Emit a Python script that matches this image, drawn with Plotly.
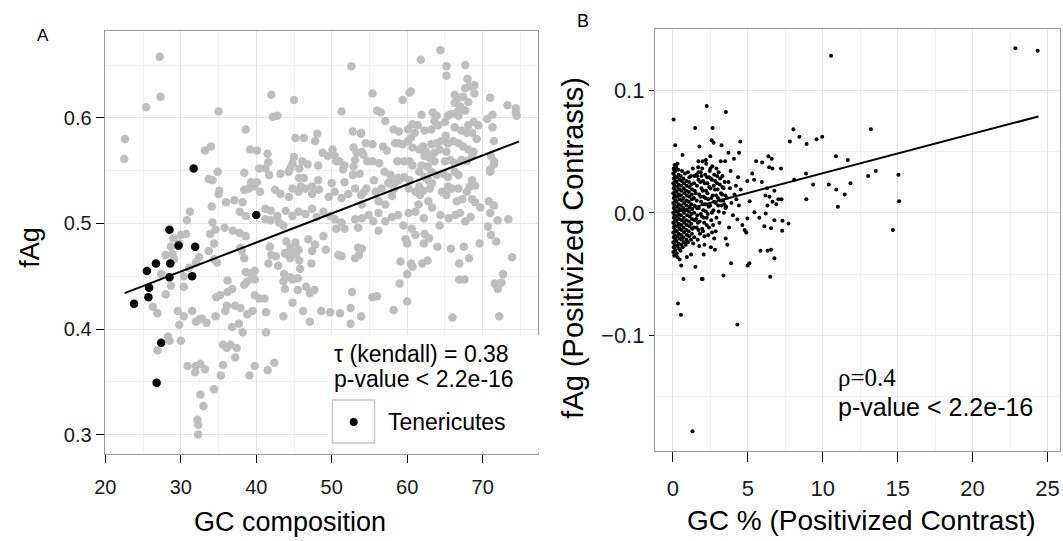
import plotly.graph_objects as go

W, H = 1063, 541

# ---------------- Panel A data: GC composition vs fAg ----------------
grey_pts = [
    # x < 35
    (27.2,0.658),(27.3,0.620),(25.4,0.610),(22.6,0.580),(22.5,0.561),(33.2,0.569),(34.0,0.573),
    (33.7,0.542),(34.2,0.541),(34.9,0.549),(35.0,0.528),(34.1,0.516),(31.2,0.511),(30.8,0.503),
    (34.2,0.501),(35.0,0.606),
    (28.0,0.470),(27.4,0.452),(28.7,0.441),(28.0,0.433),(26.3,0.421),(26.9,0.415),(29.6,0.417),
    (29.8,0.404),(30.4,0.412),(31.5,0.417),(32.0,0.407),(32.4,0.409),(32.8,0.410),(28.3,0.393),
    (28.5,0.389),(30.0,0.389),(26.9,0.380),(30.9,0.365),(32.0,0.365),(31.9,0.359),(32.6,0.367),
    (33.2,0.362),(32.6,0.338),(33.0,0.327),(32.2,0.314),(32.3,0.309),(32.3,0.300),(34.4,0.343),
    (33.7,0.474),(34.4,0.466),(34.8,0.463),(34.4,0.481),(33.9,0.490),(34.6,0.494),(32.0,0.463),
    (31.1,0.458),(30.4,0.450),(32.4,0.468),(29.1,0.466),(28.9,0.471),(28.7,0.478),(29.8,0.481),
    (30.0,0.489),(30.7,0.490),(29.0,0.486),(30.4,0.440),(33.4,0.406),(34.6,0.412),(34.7,0.430),
    # 35-54, upper
    (52.6,0.649),(42.0,0.622),(45.0,0.617),(42.2,0.601),(42.8,0.602),(51.3,0.606),(38.6,0.589),
    (52.8,0.587),(53.9,0.585),(48.1,0.585),(47.8,0.578),(45.2,0.581),(46.3,0.581),(39.2,0.570),
    (40.1,0.569),(41.5,0.566),(48.8,0.567),(50.1,0.570),(50.4,0.564),(51.0,0.559),(51.7,0.555),
    (51.5,0.551),(52.9,0.572),(53.3,0.567),(53.1,0.560),(52.9,0.554),(45.0,0.563),(46.1,0.559),
    (46.8,0.556),(45.7,0.552),(40.4,0.552),(41.2,0.552),(41.7,0.546),(43.2,0.547),(44.5,0.552),
    (44.3,0.549),(38.4,0.548),(48.2,0.555),(49.5,0.564),(50.6,0.559),(50.0,0.538),(51.7,0.539),
    (52.8,0.546),(53.7,0.547),(39.3,0.539),(40.1,0.539),(45.7,0.543),(46.3,0.543),(48.2,0.541),
    (45.9,0.535),(47.4,0.535),(44.8,0.557),(41.6,0.558),
    # 35-54, middle
    (35.1,0.531),(38.4,0.532),(39.0,0.533),(39.7,0.535),(40.5,0.530),(42.5,0.532),(43.2,0.528),
    (44.3,0.525),(44.8,0.533),(45.6,0.530),(46.5,0.533),(47.4,0.528),(48.3,0.532),(49.6,0.525),
    (50.4,0.530),(51.3,0.524),(52.2,0.528),(53.1,0.533),(53.9,0.527),
    (36.0,0.520),(37.1,0.522),(38.2,0.520),(37.8,0.511),(38.6,0.507),(41.2,0.514),(41.9,0.512),
    (42.8,0.507),(43.9,0.512),(44.8,0.507),(45.6,0.511),(46.5,0.509),(47.4,0.514),(48.0,0.506),
    (48.9,0.511),(49.8,0.507),(50.4,0.504),(51.3,0.501),(53.1,0.504),(51.7,0.495),(53.5,0.496),
    (35.8,0.496),(36.9,0.493),(37.8,0.491),(38.6,0.488),(41.2,0.504),(41.9,0.503),(43.0,0.501),
    (43.6,0.498),
    (38.1,0.474),(38.4,0.467),(37.9,0.477),(41.8,0.478),(42.0,0.470),(42.6,0.469),(41.6,0.462),
    (44.0,0.483),(44.5,0.477),(45.2,0.482),(45.6,0.475),(44.9,0.472),(46.9,0.485),(47.8,0.480),
    (47.4,0.474),(48.9,0.488),(50.6,0.495),(49.2,0.475),(43.8,0.472),(44.5,0.467),(45.8,0.457),
    (47.3,0.462),(50.9,0.470),(51.3,0.469),(53.1,0.467),(53.5,0.477),
    (38.6,0.454),(39.2,0.453),(39.5,0.448),(44.5,0.449),(36.2,0.446),(45.7,0.465),(45.3,0.471),
    (43.9,0.471),(42.9,0.460),(43.7,0.452),(39.8,0.455),(39.8,0.447),(38.8,0.445),(44.8,0.447),
    (45.5,0.448),
    # 35-54, lower
    (35.9,0.417),(36.1,0.422),(37.2,0.422),(37.9,0.420),(38.8,0.414),(39.5,0.417),(40.4,0.429),
    (41.1,0.429),(41.3,0.416),(35.2,0.432),(36.2,0.435),(36.8,0.438),(38.4,0.442),(39.8,0.432),
    (43.6,0.412),(43.8,0.438),(44.8,0.425),(46.2,0.417),(47.1,0.407),(48.6,0.417),(49.8,0.416),
    (51.1,0.415),(52.5,0.420),(52.5,0.405),(52.7,0.435),(53.9,0.412),(46.6,0.440),(47.1,0.434),
    (47.7,0.437),(45.5,0.437),(43.6,0.445),(41.3,0.397),(38.2,0.397),(37.7,0.405),(36.8,0.402),
    (35.6,0.385),(36.1,0.382),(36.6,0.385),(37.4,0.382),(37.2,0.373),(35.6,0.366),(35.3,0.356),
    (39.1,0.356),(39.8,0.365),(41.5,0.361),(42.4,0.368),
    # x >= 54, upper
    (64.4,0.664),(61.8,0.655),(65.2,0.649),(65.2,0.640),(67.7,0.650),(68.0,0.637),(68.3,0.630),
    (68.9,0.631),(68.9,0.623),(55.4,0.623),(59.4,0.617),(60.3,0.624),(60.5,0.625),(66.3,0.622),
    (66.8,0.619),(67.7,0.628),(67.4,0.620),(68.1,0.615),(66.3,0.614),(67.0,0.611),(66.7,0.606),
    (67.7,0.607),(65.9,0.604),(71.0,0.619),(73.3,0.612),(74.4,0.609),(74.5,0.602),(56.0,0.607),
    (56.5,0.605),(57.1,0.597),(61.9,0.603),(63.4,0.605),(63.9,0.602),(65.0,0.596),(63.6,0.597),
    (65.4,0.602),(66.8,0.602),(70.6,0.599),(71.3,0.603),(58.2,0.589),(58.9,0.587),(60.1,0.589),
    (60.7,0.594),(61.4,0.593),(62.3,0.588),(63.2,0.589),(64.1,0.593),(65.1,0.583),(66.3,0.591),
    (67.2,0.588),(68.1,0.593),(68.8,0.596),(69.4,0.593),(67.9,0.586),(53.9,0.586),(54.5,0.576),
    (54.0,0.568),(55.4,0.575),(56.8,0.573),(57.3,0.569),(58.4,0.576),(58.9,0.576),(59.4,0.575),
    (60.1,0.578),(60.5,0.581),(61.0,0.586),(60.7,0.572),(61.6,0.570),(62.1,0.573),(62.5,0.568),
    (63.2,0.575),(63.9,0.576),(64.5,0.578),(62.3,0.564),(63.0,0.562),(63.6,0.567),(64.3,0.570),
    (65.2,0.568),(65.4,0.576),(66.1,0.578),(66.8,0.576),(67.4,0.573),(68.1,0.570),(68.8,0.568),
    (69.2,0.580),(68.6,0.586),(71.5,0.578),(71.5,0.559),(71.0,0.551),(71.3,0.591),(58.7,0.559),
    (59.6,0.559),(60.3,0.559),(60.7,0.555),(61.9,0.555),(62.7,0.554),(63.6,0.559),(65.0,0.559),
    (65.7,0.560),(66.3,0.557),(67.2,0.560),(67.9,0.559),(68.6,0.564),(54.2,0.565),(54.7,0.559),
    (55.4,0.559),(56.3,0.557),(57.0,0.549),(57.8,0.546),(58.9,0.541),(59.6,0.544),(60.3,0.541),
    (61.6,0.549),(62.3,0.544),(63.2,0.549),(63.9,0.546),(64.8,0.547),(65.4,0.544),(66.3,0.549),
    (66.8,0.546),(68.6,0.541),(69.0,0.536),(55.6,0.541),(57.6,0.539),(58.3,0.533),(65.4,0.535),
    (66.8,0.533),(68.3,0.535),(61.6,0.535),(62.1,0.531),(63.0,0.533),(57.5,0.538),(58.4,0.539),
    (58.8,0.543),(62.8,0.541),(63.3,0.538),(71.0,0.549),(71.5,0.556),(71.1,0.564),
    # x >= 54, middle
    (54.2,0.529),(54.6,0.533),(55.8,0.530),(56.6,0.533),(54.0,0.518),(56.2,0.521),(57.1,0.518),
    (58.0,0.526),(60.2,0.533),(61.1,0.530),(61.7,0.527),(54.0,0.505),(54.9,0.508),(55.5,0.502),
    (56.2,0.510),(57.1,0.502),(58.0,0.506),(58.8,0.508),(59.5,0.498),(60.2,0.510),(61.1,0.511),
    (61.5,0.518),(62.2,0.505),(62.8,0.521),(63.3,0.515),(64.6,0.530),(65.2,0.527),(65.9,0.533),
    (66.6,0.521),(67.3,0.523),(67.9,0.530),(68.6,0.523),(65.5,0.505),(66.4,0.508),(67.0,0.510),
    (67.7,0.502),(68.4,0.506),(69.0,0.520),(69.7,0.515),(70.8,0.521),(71.0,0.510),(71.5,0.517),
    (73.4,0.504),(72.0,0.503),(70.7,0.497),(64.3,0.498),(64.4,0.508),
    # x >= 54, lower
    (56.2,0.493),(54.0,0.476),(53.6,0.470),(61.1,0.489),(59.8,0.485),(60.0,0.481),(62.9,0.486),
    (62.2,0.481),(64.0,0.478),(59.1,0.464),(60.5,0.462),(60.7,0.459),(60.0,0.452),(62.0,0.462),
    (62.7,0.465),(59.0,0.443),(55.4,0.430),(56.0,0.431),(58.2,0.418),(60.0,0.426),(71.1,0.489),
    (71.8,0.483),(65.8,0.476),(67.5,0.478),(68.2,0.467),(66.9,0.462),(69.6,0.481),(66.9,0.447),
    (67.6,0.447),(72.7,0.452),(72.5,0.444),(71.6,0.443),(72.0,0.438),(73.9,0.468),(66.0,0.411),
    (72.2,0.412),(74.4,0.605),(60.6,0.495),(62.3,0.490),
]
black_pts = [
    (23.8,0.424),(25.5,0.455),(26.7,0.462),(25.8,0.439),(25.7,0.430),(28.5,0.494),(28.6,0.462),
    (28.5,0.449),(29.7,0.479),(31.7,0.552),(31.9,0.478),(31.5,0.450),(40.0,0.508),(27.4,0.387),
    (26.8,0.349),
]
fitA_x = [22.55, 74.8]
fitA_y = [0.434, 0.5776]

gc_grey = [p[0] for p in grey_pts]
fag_grey = [p[1] for p in grey_pts]
gc_ten = [p[0] for p in black_pts]
fag_ten = [p[1] for p in black_pts]

# ---------------- Panel B data: positivized contrasts ----------------
contrast_pts = [
    (10.55,0.128),(22.86,0.134),(24.35,0.132),(8.04,0.068),(7.80,0.058),(8.44,0.062),(8.92,0.056),
    (9.58,0.060),(9.96,0.062),(13.21,0.068),(10.88,0.046),(11.67,0.043),(13.03,0.030),(13.54,0.034),
    (15.05,0.031),(15.10,0.0095),(14.68,-0.014),(8.88,0.032),(8.09,0.027),(9.36,0.023),(10.40,0.023),
    (10.90,0.019),(11.47,0.015),(11.85,0.024),(11.01,0.005),(8.90,0.011),(6.37,0.046),(6.59,0.044),
    (5.55,0.042),(5.95,0.041),(6.42,0.037),(6.64,0.036),(7.21,0.036),(5.29,0.032),(4.96,0.026),
    (5.42,0.027),(5.93,0.025),(6.28,0.020),(6.77,0.018),(6.17,0.014),(6.44,0.013),(7.03,0.011),
    (7.25,0.011),(5.12,0.0095),(6.31,0.006),(6.64,0.009),(6.90,0.007),(5.44,0.0005),(6.19,-0.0005),
    (4.97,-0.0046),(5.76,-0.004),(6.77,-0.006),(7.31,-0.0065),(7.71,-0.0087),(6.10,-0.011),
    (6.54,-0.0125),(7.29,-0.0147),(4.78,-0.014),(4.89,-0.016),(5.84,-0.031),(6.31,-0.031),
    (6.54,-0.030),(6.77,-0.037),(4.99,-0.043),(5.10,-0.041),(6.49,-0.052),
    (0.04,0.076),(1.48,0.069),(2.64,0.069),(0.15,0.055),(1.76,0.054),(2.58,0.059),(2.71,0.057),
    (3.24,0.055),(4.49,0.058),(0.64,0.047),(3.70,0.049),(4.41,0.049),(4.07,0.044),(1.70,0.042),
    (1.98,0.042),(2.20,0.043),(2.49,0.046),(1.32,0.036),(0.11,0.039),(0.07,0.035),(3.19,0.042),
    (3.48,0.042),(3.85,0.034),(4.34,0.029),(4.52,0.019),(4.23,0.011),(4.30,-0.0055),(4.63,-0.010),
    (3.74,-0.012),(2.75,-0.021),(3.52,-0.021),(3.63,-0.026),(2.53,-0.028),(2.80,-0.030),
    (2.05,-0.034),(3.88,-0.041),(3.37,-0.051),(1.98,-0.054),(0.70,-0.054),(1.50,-0.044),
    (1.21,-0.034),(0.44,-0.038),(0.55,-0.043),(0.93,-0.036),
    (3.6,0.012),(3.9,0.008),(4.1,0.015),(3.8,0.020),(4.4,0.006),(3.5,0.004),(4.0,-0.002),
    (3.7,0.025),(4.2,0.022),
    (0.33,-0.0738),(0.53,-0.083),(4.30,-0.091),(1.30,-0.178),(1.92,-0.054),(2.25,0.087),(3.53,0.082),
    # dense cluster near the origin
    (0.02,-0.032),(0.05,-0.028),(0.02,-0.024),(0.05,-0.020),(0.02,-0.016),(0.05,-0.012),(0.02,-0.008),
    (0.05,-0.004),(0.02,0.000),(0.05,0.004),(0.02,0.008),(0.05,0.012),(0.02,0.016),(0.05,0.020),
    (0.02,0.024),(0.05,0.028),(0.02,0.032),
    (0.14,-0.030),(0.10,-0.026),(0.15,-0.022),(0.11,-0.018),(0.14,-0.014),(0.10,-0.010),(0.15,-0.006),
    (0.11,-0.002),(0.14,0.002),(0.10,0.006),(0.15,0.010),(0.11,0.014),(0.14,0.018),(0.10,0.022),
    (0.15,0.026),(0.11,0.030),(0.14,0.034),
    (0.25,-0.033),(0.28,-0.027),(0.23,-0.023),(0.27,-0.019),(0.24,-0.015),(0.29,-0.011),(0.22,-0.007),
    (0.26,-0.003),(0.25,0.001),(0.28,0.005),(0.23,0.009),(0.27,0.013),(0.24,0.017),(0.29,0.021),
    (0.22,0.025),(0.26,0.029),
    (0.40,-0.029),(0.37,-0.025),(0.42,-0.021),(0.38,-0.017),(0.43,-0.013),(0.39,-0.009),(0.41,-0.005),
    (0.37,-0.001),(0.42,0.003),(0.38,0.007),(0.43,0.011),(0.39,0.015),(0.41,0.019),(0.37,0.023),
    (0.42,0.027),(0.38,0.031),
    (0.55,-0.026),(0.58,-0.022),(0.53,-0.018),(0.57,-0.014),(0.54,-0.010),(0.59,-0.006),(0.52,-0.002),
    (0.56,0.002),(0.55,0.006),(0.58,0.010),(0.53,0.014),(0.57,0.018),(0.54,0.022),(0.59,0.026),
    (0.52,0.030),
    (0.72,-0.024),(0.69,-0.020),(0.74,-0.016),(0.70,-0.012),(0.75,-0.008),(0.71,-0.004),(0.73,0.000),
    (0.69,0.004),(0.74,0.008),(0.70,0.012),(0.75,0.016),(0.71,0.020),(0.73,0.024),(0.69,0.028),
    (0.90,-0.022),(0.93,-0.018),(0.88,-0.014),(0.92,-0.010),(0.89,-0.006),(0.94,-0.002),(0.87,0.002),
    (0.91,0.006),(0.90,0.010),(0.93,0.014),(0.88,0.018),(0.92,0.022),(0.89,0.026),
    (1.08,-0.019),(1.05,-0.015),(1.10,-0.011),(1.06,-0.007),(1.11,-0.003),(1.07,0.001),(1.09,0.005),
    (1.05,0.009),(1.10,0.013),(1.06,0.017),(1.11,0.021),(1.07,0.025),(1.09,0.029),
    (1.25,-0.017),(1.28,-0.013),(1.23,-0.009),(1.27,-0.005),(1.24,-0.001),(1.29,0.003),(1.22,0.007),
    (1.26,0.011),(1.25,0.015),(1.28,0.019),(1.23,0.023),
    (1.42,-0.020),(1.40,-0.012),(1.45,-0.006),(1.41,0.000),(1.44,0.006),(1.40,0.012),(1.45,0.018),
    (1.41,0.024),(1.44,0.030),
    (0.05,0.036),(0.20,0.037),(0.35,0.035),(0.60,0.034),(0.80,0.032),(1.00,0.033),(1.20,0.030),
    (0.30,0.040),(0.08,-0.035),(0.30,-0.036),(0.50,-0.031),(0.65,-0.028),(0.85,-0.026),(1.00,-0.024),
    (1.20,-0.022),(1.35,-0.025),
    (1.55,0.031),(1.6,0.022),(1.58,0.010),(1.62,-0.002),(1.57,-0.012),(1.65,-0.022),(1.7,0.027),
    (1.75,0.015),(1.72,0.004),(1.78,-0.007),(1.8,-0.017),(1.85,0.033),(1.9,0.020),(1.88,0.009),
    (1.93,-0.003),(1.95,-0.013),(2.0,0.026),(2.05,0.013),(2.02,0.002),(2.08,-0.008),(2.1,-0.019),
    (2.15,0.031),(2.2,0.018),(2.18,0.007),(2.25,-0.004),(2.3,0.024),(2.35,0.011),(2.32,-0.001),
    (2.4,-0.012),(2.45,0.034),(2.5,0.020),(2.48,0.006),(2.55,-0.006),(2.6,0.027),(2.65,0.014),
    (2.7,0.002),(2.68,-0.010),(2.75,0.031),(2.8,0.019),(2.85,0.008),(2.9,-0.004),(2.95,0.024),
    (3.0,0.012),(3.05,0.001),(3.1,-0.008),(3.15,0.028),(3.2,0.016),(3.25,0.006),(3.3,0.021),
    (3.35,0.010),(3.4,0.000),(3.45,0.025),(3.5,0.014),(3.55,0.005),(2.22,0.040),(2.62,0.038),
    (2.9,0.036),(1.68,0.037),(3.05,0.033),(3.3,0.030),(2.4,0.029),(1.95,0.036),(2.85,-0.015),
    (2.35,-0.018),(1.75,-0.027),(2.1,-0.026),
    (1.52,0.016),(1.6,0.004),(1.66,-0.008),(1.7,0.033),(1.82,0.025),(1.84,0.013),(1.86,-0.001),
    (1.98,0.018),(2.0,0.007),(2.04,-0.004),(2.12,0.024),(2.16,0.012),(2.2,0.001),(2.28,0.029),
    (2.3,0.016),(2.38,0.005),(2.42,0.021),(2.52,0.028),(2.56,0.012),(2.6,0.000),(2.72,0.022),
    (2.74,0.009),(2.82,0.026),(2.88,0.014),(2.98,0.019),(3.02,0.006),(3.12,0.023),(3.18,0.010),
    (3.28,0.015),(3.38,0.020),(3.42,0.007),(2.95,0.030),(2.5,0.036),(1.9,0.030),(1.62,0.030),
    (1.55,-0.005),(1.7,-0.014),(2.0,-0.015),(2.25,-0.010),(2.6,-0.016),
]
fitB_x = [0.0, 24.4]
fitB_y = [0.0, 0.0785]

gc_contrast = [p[0] for p in contrast_pts]
fag_contrast = [p[1] for p in contrast_pts]

xticksA = [20, 30, 40, 50, 60, 70]
yticksA = [0.3, 0.4, 0.5, 0.6]
xticksB = [0, 5, 10, 15, 20, 25]
yticksB = [-0.1, 0.0, 0.1]

# ---------------- layout helpers (pixels -> paper) ----------------
def px(x):
    return x / W

def py(y):
    return 1 - y / H

SANS = "Liberation Sans, Arial, Helvetica, sans-serif"
SERIF = "Liberation Serif, Times New Roman, serif"
GRID = "#e4e4e4"
MINOR = "#f1f1f1"
FRAME = "#9a9a9a"

fig = go.Figure()

fig.add_trace(go.Scatter(x=gc_grey, y=fag_grey, mode="markers", xaxis="x", yaxis="y",
                         marker=dict(color="#bebebe", size=8.5, line=dict(width=0)),
                         showlegend=False, hoverinfo="skip"))
fig.add_trace(go.Scatter(x=gc_ten, y=fag_ten, mode="markers", xaxis="x", yaxis="y",
                         marker=dict(color="black", size=8.5, line=dict(width=0)),
                         showlegend=False, hoverinfo="skip"))
fig.add_trace(go.Scatter(x=fitA_x, y=fitA_y, mode="lines", xaxis="x", yaxis="y",
                         line=dict(color="black", width=2), showlegend=False, hoverinfo="skip"))

fig.add_trace(go.Scatter(x=gc_contrast, y=fag_contrast, mode="markers", xaxis="x2", yaxis="y2",
                         marker=dict(color="black", size=4, line=dict(width=0)),
                         showlegend=False, hoverinfo="skip"))
fig.add_trace(go.Scatter(x=fitB_x, y=fitB_y, mode="lines", xaxis="x2", yaxis="y2",
                         line=dict(color="black", width=2), showlegend=False, hoverinfo="skip"))

A_L, A_R, A_T, A_B = 95.5, 533.5, 31.3, 453.6
B_L, B_R, B_T, B_B = 651.0, 1060.0, 29.0, 451.0

common = dict(showline=True, mirror=True, linecolor=FRAME, linewidth=1, ticks="outside",
              tickcolor="black", tickwidth=1, showgrid=True, gridcolor=GRID, gridwidth=1,
              zeroline=False)

fig.update_layout(
    width=W, height=H, margin=dict(l=0, r=0, t=0, b=0),
    paper_bgcolor="white", plot_bgcolor="white", showlegend=False,
    font=dict(family=SANS, color="black"),
    xaxis=dict(domain=[px(A_L), px(A_R)], range=[19.9, 77.4], tickvals=xticksA,
               ticklen=8, tickfont=dict(size=20, color="#1a1a1a"), ticklabelstandoff=7,
               minor=dict(tickvals=[25, 35, 45, 55, 65, 75], showgrid=True, gridcolor=MINOR),
               anchor="y", **common),
    yaxis=dict(domain=[py(A_B), py(A_T)], range=[0.282, 0.682], tickvals=yticksA,
               tickformat=".1f", ticklen=8, tickfont=dict(size=20, color="#1a1a1a"),
               minor=dict(tickvals=[0.35, 0.45, 0.55, 0.65], showgrid=True, gridcolor=MINOR),
               anchor="x", **common),
    xaxis2=dict(domain=[px(B_L), px(B_R)], range=[-1.21, 25.84], tickvals=xticksB,
                ticklen=10, tickfont=dict(size=22, color="#1a1a1a"), ticklabelstandoff=8,
                minor=dict(tickvals=[2.5, 7.5, 12.5, 17.5, 22.5], showgrid=True, gridcolor=MINOR),
                anchor="y2", **common),
    yaxis2=dict(domain=[py(B_B), py(B_T)], range=[-0.194, 0.1497], tickvals=yticksB,
                tickformat=".1f", ticklen=5, tickfont=dict(size=22, color="#1a1a1a"),
                minor=dict(tickvals=[-0.15, -0.05, 0.05], showgrid=True, gridcolor=MINOR),
                anchor="x2", **common),
)

# legend block for panel A (white background covering grid, key box, labels)
fig.add_shape(type="rect", xref="paper", yref="paper", x0=px(321), x1=px(537), y0=py(452.6), y1=py(335),
              fillcolor="white", line=dict(width=0), layer="above")
fig.add_shape(type="rect", xref="paper", yref="paper", x0=px(325.5), x1=px(368), y0=py(443), y1=py(400),
              fillcolor="white", line=dict(color="#c8c8c8", width=1.5), layer="above")
fig.add_shape(type="circle", xref="paper", yref="paper", x0=px(343), x1=px(351), y0=py(426), y1=py(418),
              fillcolor="black", line=dict(width=0), layer="above")

ann = []
def text(x, y, s, size, xanchor="left", angle=0, family=SANS):
    ann.append(dict(x=px(x), y=py(y), xref="paper", yref="paper", text=s, showarrow=False,
                    xanchor=xanchor, yanchor="middle", textangle=angle,
                    font=dict(size=size, family=family, color="black")))

text(325.5, 354, "τ (kendall) = 0.38", 23)
text(325.5, 379, "p-value < 2.2e-16", 23)
text(380, 422, "Tenericutes", 23)
text(283, 522, "GC composition", 27, xanchor="center")
text(20, 247, "fAg", 27, xanchor="center", angle=-90)
text(33, 35, "A", 17, xanchor="center")
text(578, 21, "B", 18, xanchor="center")
text(860, 520, "GC % (Positivized Contrast)", 28, xanchor="center")
text(568, 248, "fAg (Positivized Contrasts)", 29, xanchor="center", angle=-90)
text(834, 377, "ρ=0.4", 25, family=SERIF)
text(834, 407, "p-value < 2.2e-16", 25)
fig.update_layout(annotations=ann)

fig.write_html("out.html", config={"displayModeBar": False},
               post_script="document.body.style.margin='0';document.body.style.overflow='hidden';")
